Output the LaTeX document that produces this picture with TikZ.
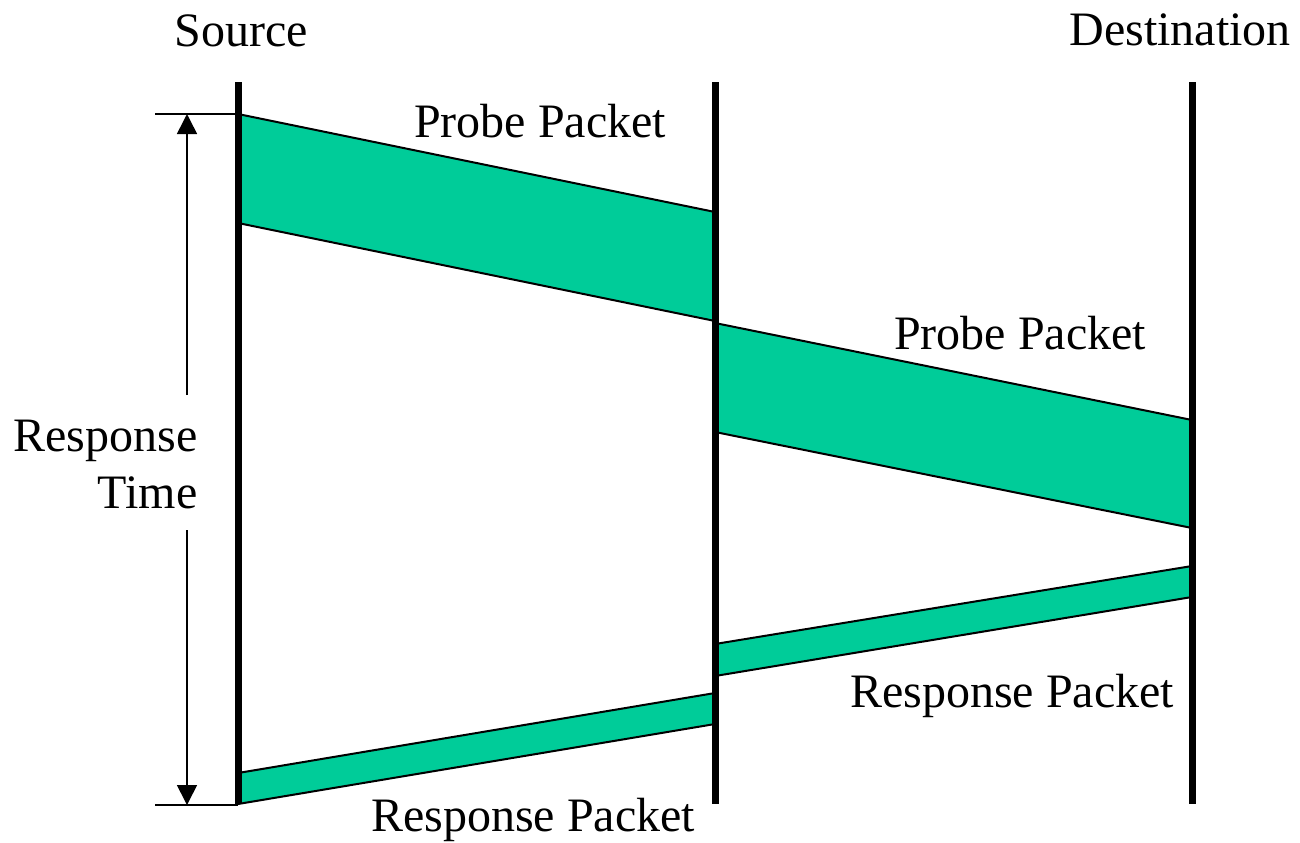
\documentclass[tikz,border=0pt]{standalone}
\usepackage{fontspec}
\setmainfont{Liberation Serif}
\usetikzlibrary{arrows.meta}
\definecolor{packet}{RGB}{0,204,153}
\begin{document}
\begin{tikzpicture}[x=0.5pt,y=-0.5pt,
  lifeline/.style={line width=3.5pt},
  bandfill/.style={fill=packet},
  bandedge/.style={line width=1pt},
  tick/.style={line width=0.8pt},
  dim/.style={line width=0.8pt,-{Triangle[width=10pt,length=10pt]}},
  lbl/.style={font=\fontsize{24}{28.8}\selectfont,inner sep=0pt}]
\useasboundingbox (0,0) rectangle (1300,842);
% lifeline end points
\coordinate (s1) at (238,82);  \coordinate (s2) at (238,804);
\coordinate (m1) at (715,82);  \coordinate (m2) at (715,804);
\coordinate (d1) at (1192,82); \coordinate (d2) at (1192,804);
% probe band 1
\coordinate (p1a) at (238,114); \coordinate (p1b) at (715,212);
\coordinate (p1c) at (715,321); \coordinate (p1d) at (238,223);
% probe band 2
\coordinate (p2a) at (715,323); \coordinate (p2b) at (1192,420);
\coordinate (p2c) at (1192,528); \coordinate (p2d) at (715,432);
% response band right
\coordinate (r1a) at (715,644); \coordinate (r1b) at (1192,566);
\coordinate (r1c) at (1192,597); \coordinate (r1d) at (715,676);
% response band left
\coordinate (r2a) at (238,773); \coordinate (r2b) at (715,693);
\coordinate (r2c) at (715,724); \coordinate (r2d) at (238,804);
% bands
\foreach \b in {p1,p2,r1,r2}{
  \fill[bandfill] (\b a) -- (\b b) -- (\b c) -- (\b d) -- cycle;
  \draw[bandedge] (\b a) -- (\b b);
  \draw[bandedge] (\b d) -- (\b c);
}
% lifelines
\draw[lifeline] (s1) -- (s2);
\draw[lifeline] (m1) -- (m2);
\draw[lifeline] (d1) -- (d2);
% response time dimension
\coordinate (t1a) at (155,114); \coordinate (t1b) at (238,114);
\coordinate (t2a) at (155,805); \coordinate (t2b) at (238,805);
\draw[tick] (t1a) -- (t1b);
\draw[tick] (t2a) -- (t2b);
\coordinate (ar1) at (187,395); \coordinate (ah1) at (187,114);
\coordinate (ar2) at (187,530); \coordinate (ah2) at (187,805);
\draw[dim] (ar1) -- (ah1);
\draw[dim] (ar2) -- (ah2);
% labels
\node[lbl,anchor=base] (src) at (241,46) {Source};
\node[lbl,anchor=base] (dst) at (1180,45) {Destination};
\node[lbl,anchor=base] (pp1) at (540,137) {Probe Packet};
\node[lbl,anchor=base] (pp2) at (1020,349) {Probe Packet};
\node[lbl,anchor=base] (rp1) at (1012,707) {Response Packet};
\node[lbl,anchor=base] (rp2) at (533,831) {Response Packet};
\node[lbl,anchor=base east] (rt1) at (198,451) {Response};
\node[lbl,anchor=base east] (rt2) at (198,508) {Time};
\end{tikzpicture}
\end{document}
